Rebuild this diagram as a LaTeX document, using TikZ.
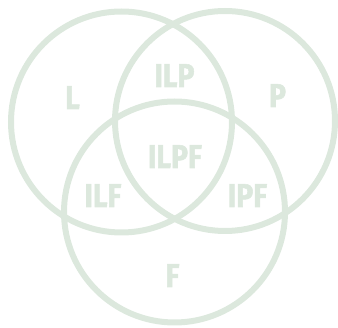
\documentclass[tikz,border=0pt]{standalone}
\usepackage{fontspec}
\setmainfont{Fira Sans}
\newfontfamily\labfont{Fira Sans}[FakeStretch=0.86,BoldFeatures={FakeBold=1.6}]
\definecolor{venn}{RGB}{220,232,221}
\begin{document}
\begin{tikzpicture}[x=1pt,y=-1pt,
  ring/.style={draw=venn,line width=6pt},
  lab/.style={text=venn,font=\labfont\fontsize{33}{33}\selectfont\bfseries,anchor=base,inner sep=0pt}]
\useasboundingbox (0,0) rectangle (338,328);
\draw[ring] (121.5,122) circle[radius=110.5];
\draw[ring] (225,121) circle[radius=110];
\draw[ring] (174.5,212) circle[radius=110.5];
\node[lab] (l) at (72.5,109) {L};
\node[lab] (p) at (277.5,107) {P};
\node[lab] (ilp) at (174.5,87) {ILP};
\node[lab] (ilpf) at (175,168) {ILPF};
\node[lab] (ilf) at (103,207) {ILF};
\node[lab] (ipf) at (247.5,207) {IPF};
\node[lab] (f) at (172.5,287) {F};
\end{tikzpicture}
\end{document}
